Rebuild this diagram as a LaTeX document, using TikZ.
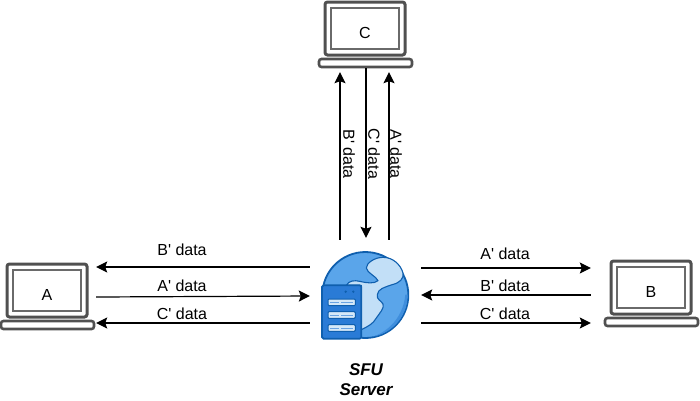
\documentclass[tikz,border=0pt]{standalone}
\usepackage{fontspec}
\setmainfont[Ligatures=TeXOff]{Liberation Sans}
\usetikzlibrary{arrows.meta}
\definecolor{lapgray}{HTML}{505050}
\definecolor{globeblue}{HTML}{5AA5EA}
\definecolor{globedark}{HTML}{3F8EDD}
\definecolor{landblue}{HTML}{C2DFF7}
\definecolor{edgeblue}{HTML}{0F5FAE}
\definecolor{serverblue}{HTML}{2A7BD6}
\definecolor{slotblue}{HTML}{D5E8F8}
\tikzset{
  x=1pt,y=-1pt,
  lapbody/.style={draw=lapgray,line width=3pt,rounded corners=2.5pt,fill=white},
  lapscreen/.style={draw=lapgray!85,line width=1.3pt,fill=white},
  lapbase/.style={draw=lapgray,line width=2.6pt,rounded corners=2.5pt,fill=white},
  lbl/.style={font=\fontsize{16}{16}\selectfont,text=black,inner sep=0pt},
  boldlbl/.style={font=\fontsize{17}{17}\selectfont\bfseries\itshape,text=black,inner sep=0pt},
  conn/.style={draw=black,line width=1.2pt,-{Stealth[length=11pt,width=11pt,inset=2pt]}},
  pt/.style={inner sep=0pt,minimum size=0pt},
}
\newcommand{\laptop}[3]{%
  \begin{scope}[shift={(#1,#2)}]
    \draw[lapbody] (7,0) rectangle (87,53);
    \draw[lapscreen] (13,6) rectangle (81,47);
    \draw[lapbase] (1,57) rectangle (94,65);
    \node[lbl] at (47,31) {#3};
  \end{scope}}
\begin{document}
\begin{tikzpicture}
\useasboundingbox (0,0) rectangle (700,400);
\fill[white] (0,0) rectangle (700,400);
\laptop{0}{264}{A}
\laptop{604}{261}{B}
\laptop{318}{2}{C}
% globe, drawn in the coordinates of a 3x crop
\begin{scope}[shift={(318,248)},x=0.3333pt,y=-0.3333pt]
  \draw[edgeblue,line width=1.8pt,fill=globeblue] (142,141) circle [radius=129];
  \begin{scope}
    \clip (142,141) circle [radius=127];
    \fill[globedark] (130,275) .. controls (200,265) and (255,215) .. (262,140)
      -- (285,140) -- (285,285) -- (130,285) -- cycle;
  \end{scope}
  \draw[edgeblue,line width=1.1pt,fill=landblue,line join=round]
    (130,245) .. controls (150,235) and (165,228) .. (175,210)
    .. controls (185,195) and (200,180) .. (195,168)
    .. controls (190,158) and (175,155) .. (178,140)
    .. controls (180,122) and (200,118) .. (222,110)
    .. controls (245,105) and (258,92) .. (255,75)
    .. controls (248,50) and (225,28) .. (195,28)
    .. controls (170,28) and (145,45) .. (145,60)
    .. controls (147,75) and (175,85) .. (180,98)
    .. controls (170,108) and (145,105) .. (125,100)
    .. controls (110,96) and (92,98) .. (85,112)
    -- (130,112) -- cycle;
  \draw[edgeblue,line width=1.7pt,fill=serverblue,rounded corners=1.5pt] (12,112) rectangle (130,272);
  \fill[edgeblue] (83,131) circle [radius=4] (106,131) circle [radius=4];
  \foreach \y in {163,201,240}{
    \draw[edgeblue,line width=1pt,fill=slotblue,rounded corners=1pt] (30,\y-10) rectangle (112,\y+10);
    \draw[serverblue!70,line width=0.8pt] (37,\y) -- (62,\y) (70,\y) -- (106,\y);
  }
\end{scope}
\node[pt] (srvL1) at (310,267) {};
\node[pt] (srvL2) at (310,296) {};
\node[pt] (srvL3) at (310,323) {};
\node[pt] (srvR1) at (421,268) {};
\node[pt] (srvR2) at (421,295) {};
\node[pt] (srvR3) at (421,323) {};
\node[pt] (srvT1) at (340,240) {};
\node[pt] (srvT2) at (366,238) {};
\node[pt] (srvT3) at (389,240) {};
\node[pt] (aT) at (96,267) {};
\node[pt] (aM) at (96,297) {};
\node[pt] (aB) at (96,323) {};
\node[pt] (bT) at (591,268) {};
\node[pt] (bM) at (591,295) {};
\node[pt] (bB) at (591,323) {};
\node[pt] (c1) at (340,72) {};
\node[pt] (c2) at (366,68) {};
\node[pt] (c3) at (389,72) {};
\draw[conn] (srvL1) -- (aT);
\draw[conn] (aM) -- (srvL2);
\draw[conn] (srvL3) -- (aB);
\draw[conn] (srvR1) -- (bT);
\draw[conn] (bM) -- (srvR2);
\draw[conn] (srvR3) -- (bB);
\draw[conn] (srvT1) -- (c1);
\draw[conn] (c2) -- (srvT2);
\draw[conn] (srvT3) -- (c3);
\node[lbl] (la1) at (182,250) {B' data};
\node[lbl] (la2) at (182,286) {A' data};
\node[lbl] (la3) at (182,314) {C' data};
\node[lbl] (lb1) at (505,254) {A' data};
\node[lbl] (lb2) at (505,286) {B' data};
\node[lbl] (lb3) at (505,314) {C' data};
\node[lbl,rotate=-90] (lc1) at (349,154) {B' data};
\node[lbl,rotate=-90] (lc2) at (374,154) {C' data};
\node[lbl,rotate=-90] (lc3) at (396,154) {A' data};
\node[boldlbl] (sfu) at (366,370) {SFU};
\node[boldlbl] (srv) at (366,390) {Server};
\end{tikzpicture}
\end{document}
